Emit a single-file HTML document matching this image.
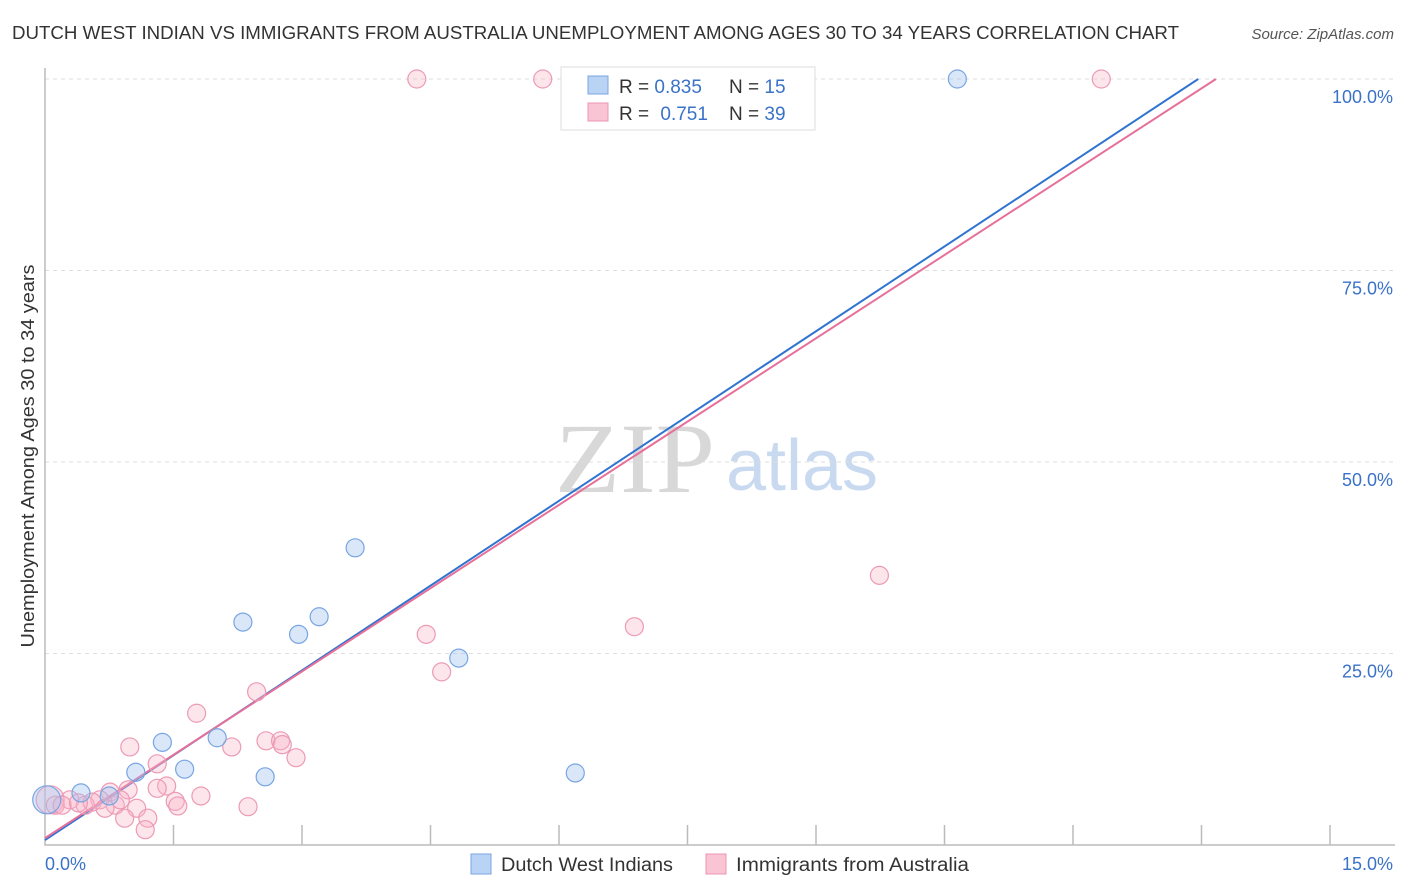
<!DOCTYPE html>
<html><head><meta charset="utf-8"><style>
body{margin:0;background:#fff;font-family:"Liberation Sans",sans-serif;}
svg{display:block}
</style></head><body>
<svg id="chart" width="1406" height="892">
<text x="12" y="39" font-size="18" fill="#333" textLength="1167" lengthAdjust="spacingAndGlyphs">DUTCH WEST INDIAN VS IMMIGRANTS FROM AUSTRALIA UNEMPLOYMENT AMONG AGES 30 TO 34 YEARS CORRELATION CHART</text>
<text x="1394" y="39" font-size="15" fill="#555" font-style="italic" text-anchor="end">Source: ZipAtlas.com</text>
<text x="635" y="492" font-size="100" fill="#d8d8d8" font-family="Liberation Serif,serif" text-anchor="middle" textLength="160" lengthAdjust="spacingAndGlyphs">ZIP</text>
<text x="802" y="490" font-size="72" fill="#c9daf0" text-anchor="middle">atlas</text>
<g id="grid"></g><g id="axes"></g><g id="lines"></g><g id="pts"></g>
<text x="34" y="456" font-size="18" fill="#333" text-anchor="middle" textLength="383" lengthAdjust="spacingAndGlyphs" transform="rotate(-90 34 456)">Unemployment Among Ages 30 to 34 years</text>
<g>
<rect x="561" y="67" width="254" height="63" fill="#fff" stroke="#ddd"/>
<rect x="588" y="76" width="20" height="18" fill="#b8d3f4" stroke="#7aa6e0"/>
<rect x="588" y="103" width="20" height="18" fill="#f9c5d5" stroke="#ec94b2"/>
<text x="619" y="93" font-size="19" fill="#333">R = <tspan fill="#3a72c8">0.835</tspan></text>
<text x="729" y="93" font-size="19" fill="#333">N = <tspan fill="#3a72c8">15</tspan></text>
<text x="619" y="120" font-size="19" fill="#333">R = <tspan fill="#3a72c8" dx="6">0.751</tspan></text>
<text x="729" y="120" font-size="19" fill="#333">N = <tspan fill="#3a72c8">39</tspan></text>
</g>
<g>
<rect x="471" y="854" width="20" height="20" fill="#b8d3f4" stroke="#7aa6e0"/>
<text x="501" y="871" font-size="19" fill="#333" textLength="172" lengthAdjust="spacingAndGlyphs">Dutch West Indians</text>
<rect x="706" y="854" width="20" height="20" fill="#f9c5d5" stroke="#ec94b2"/>
<text x="736" y="871" font-size="19" fill="#333" textLength="233" lengthAdjust="spacingAndGlyphs">Immigrants from Australia</text>
</g>
</svg>
<script>
const xTicks=[0,1.5,3,4.5,6,7.5,9,10.5,12,13.5,15];
const yTicks=[25,50,75,100];
const yTickLabels=["25.0%","50.0%","75.0%","100.0%"];
const blueX=[10.65,3.62,3.20,2.96,2.31,4.83,2.01,1.37,1.63,1.06,2.57,6.19,0.75,0.02,0.42];
const blueY=[100,38.8,29.8,27.5,29.1,24.4,14.0,13.4,9.9,9.5,8.9,9.4,6.4,5.9,6.8];
const pinkX=[4.34,5.81,12.33,9.74,6.88,4.45,4.63,2.47,1.77,0.99,2.18,2.58,2.75,2.77,2.93,1.31,1.42,1.31,1.82,1.52,0.97,0.76,0.64,0.47,0.29,0.06,0.12,0.82,1.07,0.93,1.20,1.17,2.37,1.55,0.55,0.20,0.39,0.70,0.88];
const pinkY=[100,100,100,35.2,28.5,27.5,22.6,20.0,17.2,12.8,12.8,13.6,13.6,13.1,11.4,10.6,7.7,7.4,6.4,5.7,7.2,6.9,5.9,5.2,5.9,5.9,5.2,5.2,4.8,3.5,3.5,2.0,5.0,5.1,5.6,5.2,5.5,4.8,5.9];
const blueFit=[0.65,7.38];
const pinkFit=[0.9,7.25];
const NS="http://www.w3.org/2000/svg";
const X=v=>45+v/15*1285, Y=v=>845-v/100*766;
function mk(p,t,a){const e=document.createElementNS(NS,t);for(const k in a)e.setAttribute(k,a[k]);document.getElementById(p).appendChild(e);return e;}
yTicks.forEach((t,i)=>{
 const g=mk('grid','line',{x1:45,x2:1395,y1:Y(t),y2:Y(t),stroke:'#ddd','stroke-dasharray':'4,4'});
 
 
 const l=mk('grid','text',{x:1393,y:Y(t)+24,'font-size':18,fill:'#3a72c8','text-anchor':'end'});
 l.textContent=yTickLabels[i];
 
 
});
const ax=mk('axes','path',{d:'M45,68V845H1395',stroke:'#bbb',fill:'none','stroke-width':1.5});


xTicks.slice(1).forEach(t=>{
 const k=mk('axes','line',{x1:X(t),x2:X(t),y1:825,y2:845,stroke:'#bbb','stroke-width':1.5});
 
 
});
const x0=mk('axes','text',{x:45,y:870,'font-size':18,fill:'#3a72c8'});x0.textContent='0.0%';


const x1=mk('axes','text',{x:1393,y:870,'font-size':18,fill:'#3a72c8','text-anchor':'end'});x1.textContent='15.0%';


function pts(xs,ys,fill,stroke,name){xs.forEach((x,i)=>{
 const c=mk('pts','circle',{cx:X(x),cy:Y(ys[i]),r:(x<0.1?14:9),fill:fill,stroke:stroke,'stroke-width':1.2});
 
 
});}
pts(pinkX,pinkY,'rgba(248,180,200,0.35)','#ec9ab5','australia-point');
pts(blueX,blueY,'rgba(160,196,240,0.4)','#78a5e2','dutch-west-indian-point');
function fit(f,col,name){const xe=(100-f[0])/f[1];
 const l=mk('lines','line',{x1:X(0),y1:Y(f[0]),x2:X(xe),y2:Y(100),stroke:col,'stroke-width':2});
 
 }
fit(blueFit,'#2f74d0','blue-trend-line');
fit(pinkFit,'#e7709a','pink-trend-line');
</script>
</body></html>
